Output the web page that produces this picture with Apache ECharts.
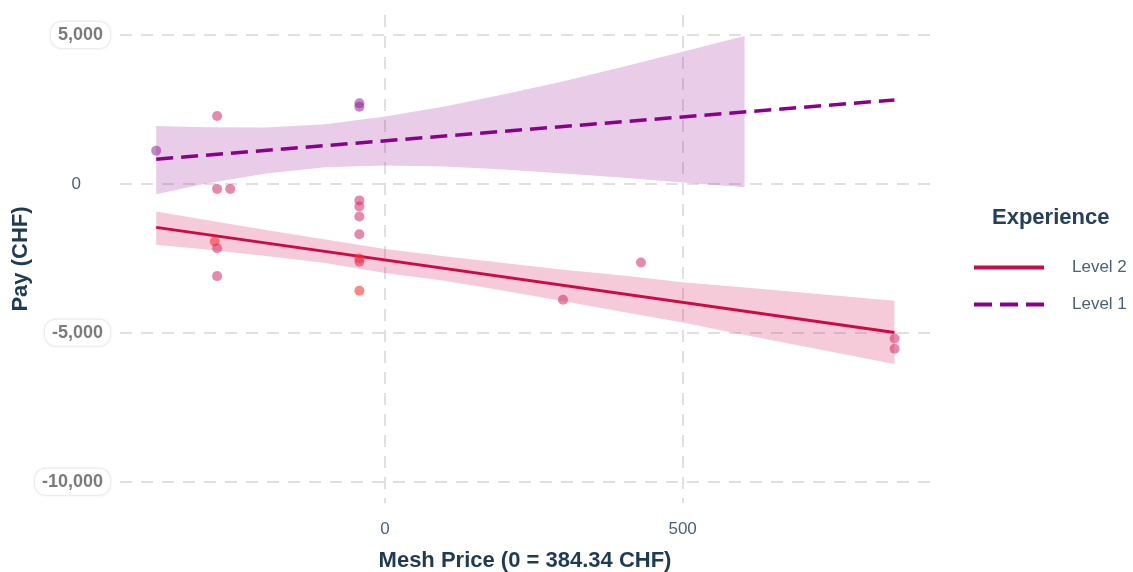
<!DOCTYPE html>
<html>
<head>
<meta charset="utf-8">
<script src="https://cdn.jsdelivr.net/npm/echarts@6/dist/echarts.min.js"></script>
<style>
  html, body { margin: 0; padding: 0; background: #ffffff; }
  #chart { width: 1133px; height: 572px; }
</style>
</head>
<body>
<div id="chart"></div>
<script>
// Axis ticks
const xTicks = [0, 500];
const yTicks = [-10000, -5000, 0, 5000];

// Observations: [centred mesh price, pay]
const level1Points = [[-384.3, 1117], [-43, 2708], [-43, 2594]];
const level2Points = [
  [-282, 2282], [-282, -168], [-260, -168],
  [-282, -2158], [-282, -3097],
  [-43, -554], [-43, -762], [-43, -1097], [-43, -1688], [-43, -2617],
  [299, -3893], [430, -2641], [856, -5191], [856, -5537]
];
const level2Flagged = [[-286, -1936], [-43, -2507], [-43, -3591]];

// Fitted lines
const level1Fit = [[-384.3, 829], [855.7, 2819]];
const level2Fit = [[-384.3, -1460], [855.7, -4990]];

// Confidence bands
const band1X     = [-384.3, -300, -200, -100, 0, 100, 200, 300, 400, 500, 604];
const band1Upper = [1946, 1900, 1890, 2000, 2260, 2600, 3010, 3450, 3930, 4440, 4966];
const band1Lower = [-346, 10, 350, 560, 620, 580, 480, 350, 205, 44, -110];

const band2X     = [-384.3, -300, -200, -100, 0, 100, 200, 300, 400, 500, 600, 700, 855.7];
const band2Upper = [-930, -1210, -1550, -1870, -2190, -2430, -2660, -2880, -3080, -3300, -3470, -3650, -3926];
const band2Lower = [-2045, -2200, -2420, -2660, -2990, -3250, -3590, -3940, -4300, -4650, -5060, -5440, -6051];

const C_L2 = '#cc0a45';
const C_L1 = '#8b008b';
const FONT = '"Liberation Sans", Arial, sans-serif';

function bandSeries(name, xs, up, lo, fill, z) {
  const data = xs.map((x, i) => [x, up[i], lo[i]]);
  return {
    type: 'custom',
    name: name,
    silent: true,
    z: z,
    data: data,
    encode: { x: 0, y: [1, 2] },
    renderItem: function (params, api) {
      if (params.dataIndex !== 0) return null;
      const pts = [];
      for (let i = 0; i < data.length; i++) pts.push(api.coord([data[i][0], data[i][1]]));
      for (let i = data.length - 1; i >= 0; i--) pts.push(api.coord([data[i][0], data[i][2]]));
      return { type: 'polygon', shape: { points: pts }, style: { fill: fill } };
    }
  };
}

const gridDash = { color: '#e0e0e0', width: 2, type: [12, 9] };

const chart = echarts.init(document.getElementById('chart'), null, { renderer: 'canvas' });
chart.setOption({
  animation: false,
  backgroundColor: '#ffffff',
  textStyle: { fontFamily: FONT },
  title: {
    text: 'Experience',
    left: 992, top: 207, padding: 0,
    textStyle: { fontSize: 22, fontWeight: 'bold', color: '#23415a', fontFamily: FONT }
  },
  legend: {
    data: [
      { name: 'Level 2', lineStyle: { width: 4, color: C_L2 } },
      { name: 'Level 1', lineStyle: { width: 4, color: C_L1, type: [18, 8] } }
    ],
    orient: 'vertical',
    left: 972, top: 259, padding: 0,
    itemWidth: 70, itemHeight: 14, itemGap: 20,
    itemStyle: { opacity: 0 },
    textStyle: { fontSize: 17, color: '#4a6178', padding: [0, 0, 0, 23], fontFamily: FONT }
  },
  grid: { left: 120, right: 203, top: 15, bottom: 69, containLabel: false, outerBoundsMode: 'none' },
  xAxis: {
    type: 'value',
    min: -445.1, max: 915.5,
    name: 'Mesh Price (0 = 384.34 CHF)',
    nameLocation: 'middle', nameGap: 47,
    nameTextStyle: { fontSize: 22, fontWeight: 'bold', color: '#1f3a55', fontFamily: FONT },
    axisLine: { show: false },
    axisTick: { show: false, customValues: xTicks },
    axisLabel: { customValues: xTicks, fontSize: 17, color: '#4a6178', margin: 18, fontFamily: FONT },
    splitLine: { show: true, lineStyle: gridDash }
  },
  yAxis: {
    type: 'value',
    min: -10715, max: 5671,
    name: 'Pay (CHF)',
    nameLocation: 'middle', nameGap: 88, nameRotate: 90,
    nameMoveOverlap: false,
    nameTextStyle: { fontSize: 22, fontWeight: 'bold', color: '#1f3a55', fontFamily: FONT },
    axisLine: { show: false },
    axisTick: { show: false, customValues: yTicks },
    axisLabel: {
      customValues: yTicks,
      margin: 10,
      formatter: function (v) {
        if (v === 0) return '{z|0}';
        return '{b|' + v.toLocaleString('en-US') + '}';
      },
      rich: {
        z: { fontSize: 17, color: '#4a6178', padding: [0, 29, 0, 0], fontFamily: FONT },
        b: {
          fontSize: 18, fontWeight: 'bold', color: '#7b7b7b', fontFamily: FONT,
          backgroundColor: '#ffffff', borderRadius: 11, padding: [4, 7],
          borderColor: '#f2f2f2', borderWidth: 1,
          shadowBlur: 3, shadowColor: 'rgba(0,0,0,0.07)'
        }
      }
    },
    splitLine: { show: true, lineStyle: gridDash }
  },
  series: [
    bandSeries('band2', band2X, band2Upper, band2Lower, 'rgba(210,20,80,0.22)', 1),
    bandSeries('band1', band1X, band1Upper, band1Lower, 'rgba(139,0,139,0.2)', 1),
    {
      type: 'line', name: 'Level 2', data: level2Fit, symbol: 'none', z: 3,
      itemStyle: { color: C_L2 },
      lineStyle: { color: C_L2, width: 3 }
    },
    {
      type: 'line', name: 'Level 1', data: level1Fit, symbol: 'none', z: 3,
      itemStyle: { color: C_L1 },
      lineStyle: { color: C_L1, width: 3.5, type: [17, 8] }
    },
    {
      type: 'scatter', name: 'pts1', data: level1Points, symbolSize: 10, z: 4,
      itemStyle: { color: 'rgba(150,40,150,0.7)' }
    },
    {
      type: 'scatter', name: 'pts2', data: level2Points, symbolSize: 10, z: 4,
      itemStyle: { color: 'rgba(212,45,105,0.7)' }
    },
    {
      type: 'scatter', name: 'pts2f', data: level2Flagged, symbolSize: 10, z: 4,
      itemStyle: { color: 'rgba(255,45,45,0.72)' }
    }
  ]
});
</script>
</body>
</html>
